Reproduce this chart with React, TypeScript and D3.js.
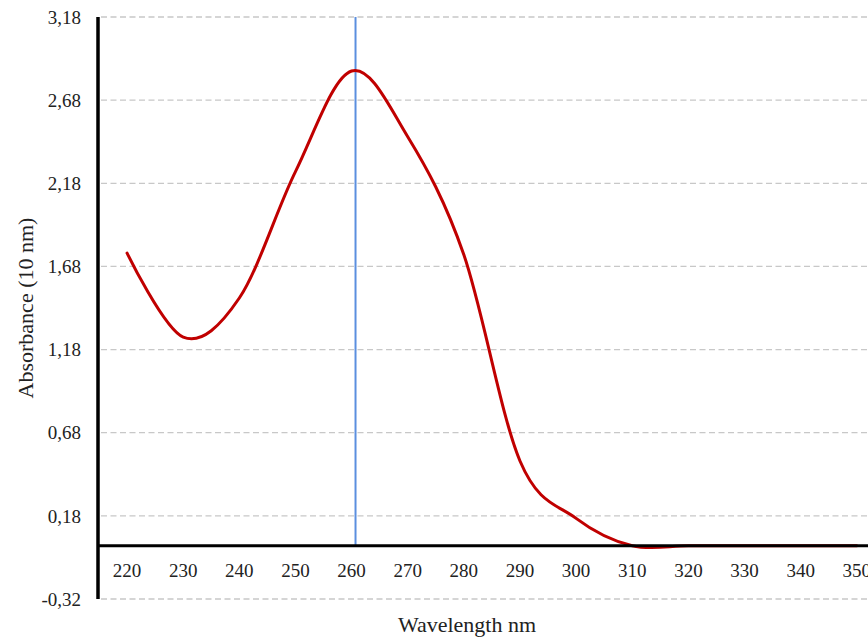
import React from "react";
import * as d3 from "d3";

const wavelengths = [220, 230, 240, 250, 260, 270, 280, 290, 300, 310, 320, 330, 340, 350];
const absorbance = [1.76, 1.255, 1.49, 2.25, 2.855, 2.46, 1.75, 0.51, 0.165, 0, 0, 0, 0, 0];
const xTicks = [220, 230, 240, 250, 260, 270, 280, 290, 300, 310, 320, 330, 340, 350];
const yTicks = [-0.32, 0.18, 0.68, 1.18, 1.68, 2.18, 2.68, 3.18];
const peakWavelength = 260.7;
const xTitle = "Wavelength nm";
const yTitle = "Absorbance (10 nm)";

const W = 868;
const H = 641;
const FONT = "'Liberation Serif', 'Times New Roman', serif";

export default function App() {
  const x = d3.scaleLinear().domain([215, 352]).range([99, 868]);
  const y = d3.scaleLinear().domain([-0.32, 3.18]).range([599, 17]);
  const fmt = (v: number) => d3.format(".2f")(v).replace(".", ",").replace("\u2212", "-");
  const pts = wavelengths.map((w, i) => [w, absorbance[i]] as [number, number]);
  const line = d3
    .line<[number, number]>()
    .x((d) => x(d[0]))
    .y((d) => y(d[1]))
    .curve(d3.curveCatmullRom.alpha(0));
  const x0 = x.range()[0];
  const x1 = W;

  return (
    <svg width={W} height={H} style={{ position: "absolute", left: 0, top: 0, background: "#fff" }}>
      {/* gridlines */}
      {yTicks.map((t) => (
        <line key={"g" + t} x1={x0 + 2} x2={x1} y1={y(t)} y2={y(t)} stroke="#c8c8c8" strokeWidth={1.3} strokeDasharray="6,3.5" />
      ))}
      {/* y tick labels */}
      {yTicks.map((t) => (
        <text key={"yl" + t} x={81} y={y(t)} dy="0.35em" textAnchor="end" fontFamily={FONT} fontSize={19} fill="#222">
          {fmt(t)}
        </text>
      ))}
      {/* x tick labels */}
      {xTicks.map((t) => (
        <text key={"xl" + t} x={x(t)} y={577} textAnchor="middle" fontFamily={FONT} fontSize={19} fill="#222">
          {t}
        </text>
      ))}
      {/* peak marker */}
      <line x1={x(peakWavelength)} x2={x(peakWavelength)} y1={y(3.18)} y2={y(0)} stroke="#5b8fdf" strokeWidth={2} />
      {/* curve */}
      <path d={line(pts) || ""} fill="none" stroke="#c00000" strokeWidth={3} strokeLinejoin="round" strokeLinecap="round" />
      {/* axes */}
      <line x1={x0} x2={x1} y1={y(0)} y2={y(0)} stroke="#000" strokeWidth={3} />
      <line x1={x0 - 1} x2={x0 - 1} y1={y(3.18)} y2={y(-0.32)} stroke="#000" strokeWidth={3.5} />
      {/* titles */}
      <text x={467} y={632} textAnchor="middle" fontFamily={FONT} fontSize={22} fill="#222">
        {xTitle}
      </text>
      <text transform={`translate(33,308) rotate(-90)`} textAnchor="middle" fontFamily={FONT} fontSize={22} fill="#222">
        {yTitle}
      </text>
    </svg>
  );
}
